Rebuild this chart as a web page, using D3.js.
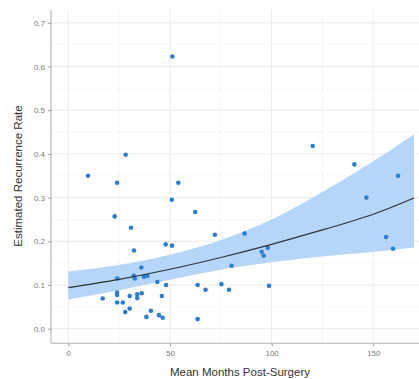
<!DOCTYPE html>
<html>
<head>
<meta charset="utf-8">
<script src="https://cdn.jsdelivr.net/npm/d3@7"></script>
<style>
  body { margin: 0; background: #fff; }
  svg { display: block; font-family: "Liberation Sans", Arial, sans-serif; }
</style>
</head>
<body>
<div id="chart"></div>
<script>
// observed points: months post-surgery, estimated recurrence rate
var months = [9.7, 28.2, 51.2, 24.0, 54.1, 50.9, 62.4, 22.8, 30.8, 72.1, 86.7, 47.9, 51.0, 32.3,
  80.3, 35.9, 24.1, 32.2, 32.7, 37.2, 38.9, 43.8, 48.1, 63.6, 67.5, 75.3, 79.0, 16.9,
  24.0, 24.0, 30.2, 33.9, 36.1, 33.9, 46.0, 24.0, 26.8, 30.2, 28.0, 40.6, 38.4, 44.6,
  46.4, 63.6, 95.1, 96.1, 98.1, 98.7, 120.2, 140.7, 162.2, 146.6, 156.3, 159.7];
var rates = [0.350, 0.398, 0.623, 0.334, 0.334, 0.295, 0.267, 0.257, 0.231, 0.215, 0.218, 0.193, 0.190, 0.179,
  0.144, 0.140, 0.115, 0.121, 0.115, 0.119, 0.121, 0.107, 0.100, 0.100, 0.089, 0.102, 0.089, 0.069,
  0.083, 0.077, 0.075, 0.079, 0.081, 0.070, 0.075, 0.060, 0.060, 0.046, 0.038, 0.041, 0.027, 0.031,
  0.025, 0.022, 0.176, 0.167, 0.185, 0.098, 0.418, 0.376, 0.350, 0.300, 0.210, 0.183];

// fitted curve and confidence band
var fitX = [0, 25, 50, 75, 100, 125, 150, 170];
var fitY = [0.094, 0.113, 0.136, 0.163, 0.193, 0.226, 0.262, 0.299];
var bandLow = [0.067, 0.088, 0.112, 0.135, 0.152, 0.165, 0.176, 0.186];
var bandHigh = [0.131, 0.146, 0.169, 0.203, 0.250, 0.313, 0.383, 0.445];

var xTicks = [0, 50, 100, 150];
var xMinor = [25, 75, 125, 175];
var yTicks = [0, 0.1, 0.2, 0.3, 0.4, 0.5, 0.6, 0.7];
var yMinor = [0.05, 0.15, 0.25, 0.35, 0.45, 0.55, 0.65];

var width = 419, height = 379;
var panel = { left: 51, top: 10, right: 419, bottom: 343.3 };

var svg = d3.select("#chart").append("svg")
  .attr("width", width)
  .attr("height", height);

var x = d3.scaleLinear().domain([0, 150]).range([68.3, 373.3]);
var y = d3.scaleLinear().domain([0, 0.7]).range([328.7, 22.8]);

// grid
var grid = svg.append("g");
grid.selectAll(".ymin").data(yMinor).enter().append("line")
  .attr("x1", panel.left).attr("x2", panel.right)
  .attr("y1", d => y(d)).attr("y2", d => y(d))
  .attr("stroke", "#f4f4f4").attr("stroke-width", 0.7);
grid.selectAll(".xmin").data(xMinor).enter().append("line")
  .attr("y1", panel.top).attr("y2", panel.bottom)
  .attr("x1", d => x(d)).attr("x2", d => x(d))
  .attr("stroke", "#f4f4f4").attr("stroke-width", 0.7);
grid.selectAll(".ymaj").data(yTicks).enter().append("line")
  .attr("x1", panel.left).attr("x2", panel.right)
  .attr("y1", d => y(d)).attr("y2", d => y(d))
  .attr("stroke", "#ebebeb").attr("stroke-width", 1);
grid.selectAll(".xmaj").data(xTicks).enter().append("line")
  .attr("y1", panel.top).attr("y2", panel.bottom)
  .attr("x1", d => x(d)).attr("x2", d => x(d))
  .attr("stroke", "#ebebeb").attr("stroke-width", 1);

// confidence band
var band = fitX.map((d, i) => ({ x: d, lo: bandLow[i], hi: bandHigh[i] }));
var area = d3.area()
  .x(d => x(d.x))
  .y0(d => y(d.lo))
  .y1(d => y(d.hi))
  .curve(d3.curveNatural);
svg.append("path")
  .datum(band)
  .attr("d", area)
  .attr("fill", "#b5d6f8");

// points
svg.append("g").selectAll("circle")
  .data(months)
  .enter()
  .append("circle")
  .attr("cx", d => x(d))
  .attr("cy", (d, i) => y(rates[i]))
  .attr("r", 2.3)
  .attr("fill", "#2b7fd3");

// fitted line
var line = d3.line()
  .x((d, i) => x(d))
  .y((d, i) => y(fitY[i]))
  .curve(d3.curveNatural);
svg.append("path")
  .datum(fitX)
  .attr("d", line)
  .attr("fill", "none")
  .attr("stroke", "#2e3338")
  .attr("stroke-width", 1.2);

// axes
var xAxis = svg.append("g")
  .attr("transform", `translate(0,${panel.bottom})`)
  .call(d3.axisBottom(x).tickValues(xTicks).tickSize(3).tickPadding(4));
var yAxis = svg.append("g")
  .attr("transform", `translate(${panel.left},0)`)
  .call(d3.axisLeft(y).tickValues(yTicks).tickFormat(d3.format(".1f")).tickSize(3).tickPadding(3));

[xAxis, yAxis].forEach(function (g) {
  g.select(".domain").remove();
  g.selectAll(".tick line").attr("stroke", "#9a9a9a");
  g.selectAll(".tick text").attr("fill", "#7a7a7a").style("font-size", "8px")
    .style("font-family", "'Liberation Sans', Arial, sans-serif");
});

svg.append("line")
  .attr("x1", panel.left).attr("x2", panel.right)
  .attr("y1", panel.bottom).attr("y2", panel.bottom)
  .attr("stroke", "#b0b0b0").attr("stroke-width", 1.1);
svg.append("line")
  .attr("x1", panel.left).attr("x2", panel.left)
  .attr("y1", panel.top).attr("y2", panel.bottom)
  .attr("stroke", "#b0b0b0").attr("stroke-width", 1.1);

// titles
svg.append("text")
  .attr("x", 240)
  .attr("y", 376)
  .attr("text-anchor", "middle")
  .attr("fill", "#333")
  .style("font-size", "11.5px")
  .text("Mean Months Post-Surgery");

svg.append("text")
  .attr("transform", "translate(22,176) rotate(-90)")
  .attr("text-anchor", "middle")
  .attr("fill", "#333")
  .style("font-size", "11.5px")
  .text("Estimated Recurrence Rate");
</script>
</body>
</html>
